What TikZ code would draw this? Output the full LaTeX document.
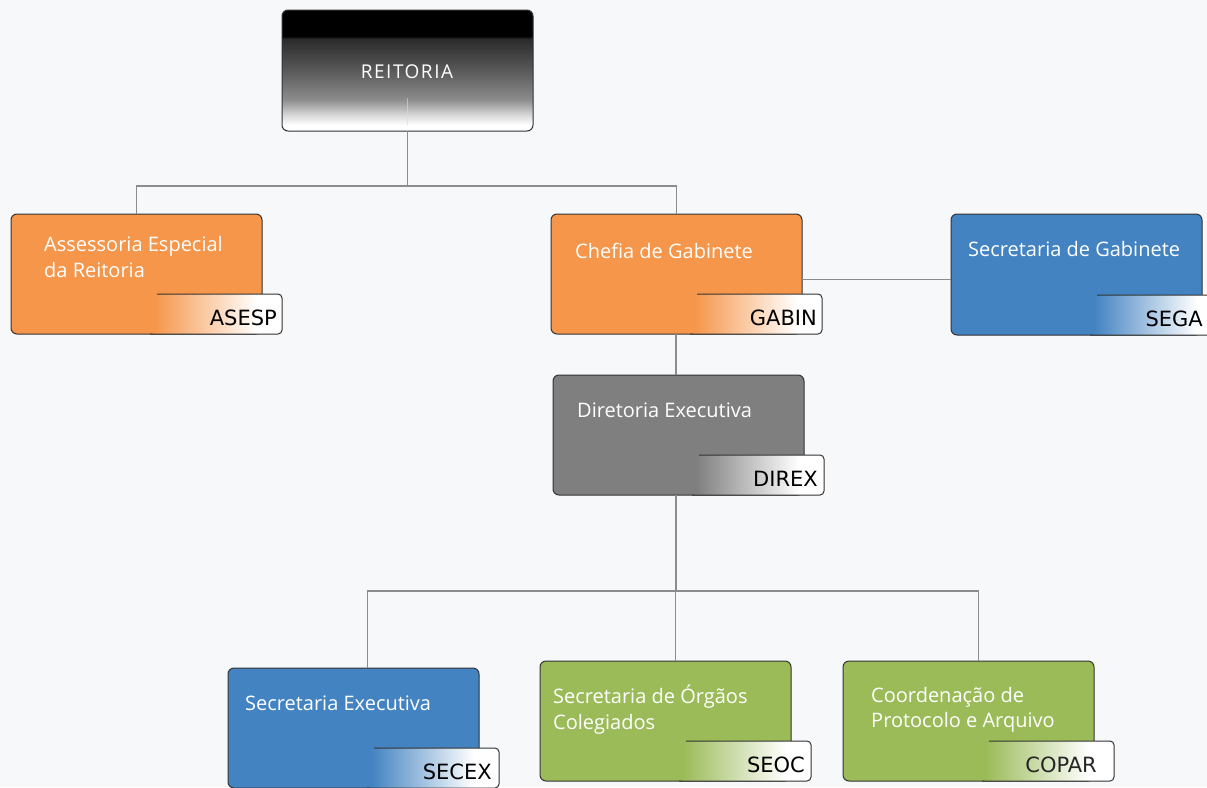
\documentclass[tikz,border=0pt]{standalone}
\usepackage{fontspec}
\setmainfont{Open Sans}
\newfontfamily\tagfont{DejaVu Sans}
\definecolor{bg}{HTML}{F7F8FA}
\definecolor{corange}{HTML}{F5964A}
\definecolor{cblue}{HTML}{4383C1}
\definecolor{cgray}{HTML}{7F7F7F}
\definecolor{cgreen}{HTML}{9BBB59}
\definecolor{cline}{HTML}{8C8C8C}
\definecolor{cborder}{HTML}{333333}
\pgfdeclareverticalshading{reitshade}{100bp}{color(0bp)=(white); color(27.5bp)=(white); color(31.5bp)=(black!15); color(38bp)=(black!45); color(50bp)=(black!65); color(63bp)=(black!83); color(64.2bp)=(black); color(100bp)=(black)}
\pgfdeclarehorizontalshading{tagorange}{100bp}{color(0bp)=(corange); color(29bp)=(corange); color(66bp)=(white); color(100bp)=(white)}
\pgfdeclarehorizontalshading{tagblue}{100bp}{color(0bp)=(cblue); color(29bp)=(cblue); color(66bp)=(white); color(100bp)=(white)}
\pgfdeclarehorizontalshading{taggray}{100bp}{color(0bp)=(cgray); color(29bp)=(cgray); color(66bp)=(white); color(100bp)=(white)}
\pgfdeclarehorizontalshading{taggreen}{100bp}{color(0bp)=(cgreen); color(29bp)=(cgreen); color(66bp)=(white); color(100bp)=(white)}
\newcommand\drawtag[5]{% #1 box, #2 shading, #3 label name, #4 label text, #5 label right shift
  \path[shading=#2, rounded corners=4pt] ([xshift=-119pt,yshift=40pt]#1.south east) -- ([xshift=20pt,yshift=40pt]#1.south east) -- ([xshift=20pt]#1.south east) -- ([xshift=-112pt]#1.south east) -- cycle;
  \draw[cborder, line width=1pt, rounded corners=4pt] ([xshift=-105pt,yshift=40pt]#1.south east) -- ([xshift=20pt,yshift=40pt]#1.south east) -- ([xshift=20pt]#1.south east) -- ([xshift=-112pt]#1.south east);
  \node[taglabel, anchor=base east] (#3) at ([xshift=#5,yshift=9pt]#1.south east) {#4};
}
\begin{document}
\begin{tikzpicture}[x=1pt,y=-1pt,
  box/.style={draw=cborder, line width=1pt, rounded corners=6pt, minimum width=251pt, minimum height=120pt, inner sep=0pt, outer sep=0pt, anchor=north west},
  boxtext/.style={text=white, font=\fontsize{20}{26}\selectfont, inner sep=0pt, anchor=base west},
  taglabel/.style={text=black, font=\tagfont\fontsize{21}{24}\selectfont, inner sep=0pt},
  conn/.style={draw=cline, line width=1.2pt}]
\fill[bg] (0,0) rectangle (1207,787);
\clip (0,0) rectangle (1207,787);

% connectors
\coordinate (bus1) at (407.5,186);
\coordinate (bus2) at (676,591);

% REITORIA
\node[box, shading=reitshade, minimum height=121pt] (reit) at (282,10) {};
\draw[white!70!gray, opacity=0.6, line width=0.8pt] ([yshift=33pt]reit.south) -- ([yshift=6pt]reit.south);
\node[text=white, font=\fontsize{19}{22}\selectfont\addfontfeature{LetterSpace=8}, inner sep=0pt, anchor=base] (reittxt) at (407,78) {REITORIA};

\draw[conn] (reit.south) -- (bus1);

% boxes
\node[box, fill=corange] (asesp) at (11,214) {};
\node[box, fill=corange] (gabin) at (551,214) {};
\node[box, fill=cblue, minimum height=121pt] (sega) at (951,214) {};
\node[box, fill=cgray] (direx) at (553,375) {};
\node[box, fill=cblue] (secex) at (228,668) {};
\node[box, fill=cgreen] (seoc) at (540,661) {};
\node[box, fill=cgreen] (copar) at (843,661) {};

\coordinate (segain) at ([yshift=-5pt]sega.west);
\draw[conn] (bus1) -| (asesp.north);
\draw[conn] (bus1) -| (gabin.north);
\draw[conn] (gabin.east |- segain) -- (segain);
\draw[conn] (gabin.south -| bus2) -- (direx.north -| bus2);
\draw[conn] (direx.south -| bus2) -- (bus2);
\draw[conn] (bus2) -| ([xshift=14pt]secex.north);
\draw[conn] (bus2) -| ([xshift=10pt]seoc.north);
\draw[conn] (bus2) -| ([xshift=10pt]copar.north);

% tags
\drawtag{asesp}{tagorange}{asesplbl}{ASESP}{15pt}
\drawtag{gabin}{tagorange}{gabinlbl}{GABIN}{15pt}
\drawtag{sega}{tagblue}{segalbl}{SEGA}{1pt}
\drawtag{direx}{taggray}{direxlbl}{DIREX}{14pt}
\drawtag{secex}{tagblue}{secexlbl}{SECEX}{13pt}
\drawtag{seoc}{taggreen}{seoclbl}{SEOC}{14pt}
\drawtag{copar}{taggreen}{coparlbl}{\color{black!85}COPAR}{3pt}

% texts
\node[boxtext] (asesp1) at (44,251) {Assessoria Especial};
\node[boxtext] (asesp2) at (44,277) {da Reitoria};
\node[boxtext] (gabintxt) at (575,258) {Chefia de Gabinete};
\node[boxtext] (segatxt) at (968,256) {Secretaria de Gabinete};
\node[boxtext] (dirextxt) at (577,417) {Diretoria Executiva};
\node[boxtext] (secextxt) at (245,710) {Secretaria Executiva};
\node[boxtext] (seoc1) at (553,703) {Secretaria de Órgãos};
\node[boxtext] (seoc2) at (553,729) {Colegiados};
\node[boxtext] (copar1) at (871,702) {Coordenação de};
\node[boxtext] (copar2) at (871,727) {Protocolo e Arquivo};
\end{tikzpicture}
\end{document}
